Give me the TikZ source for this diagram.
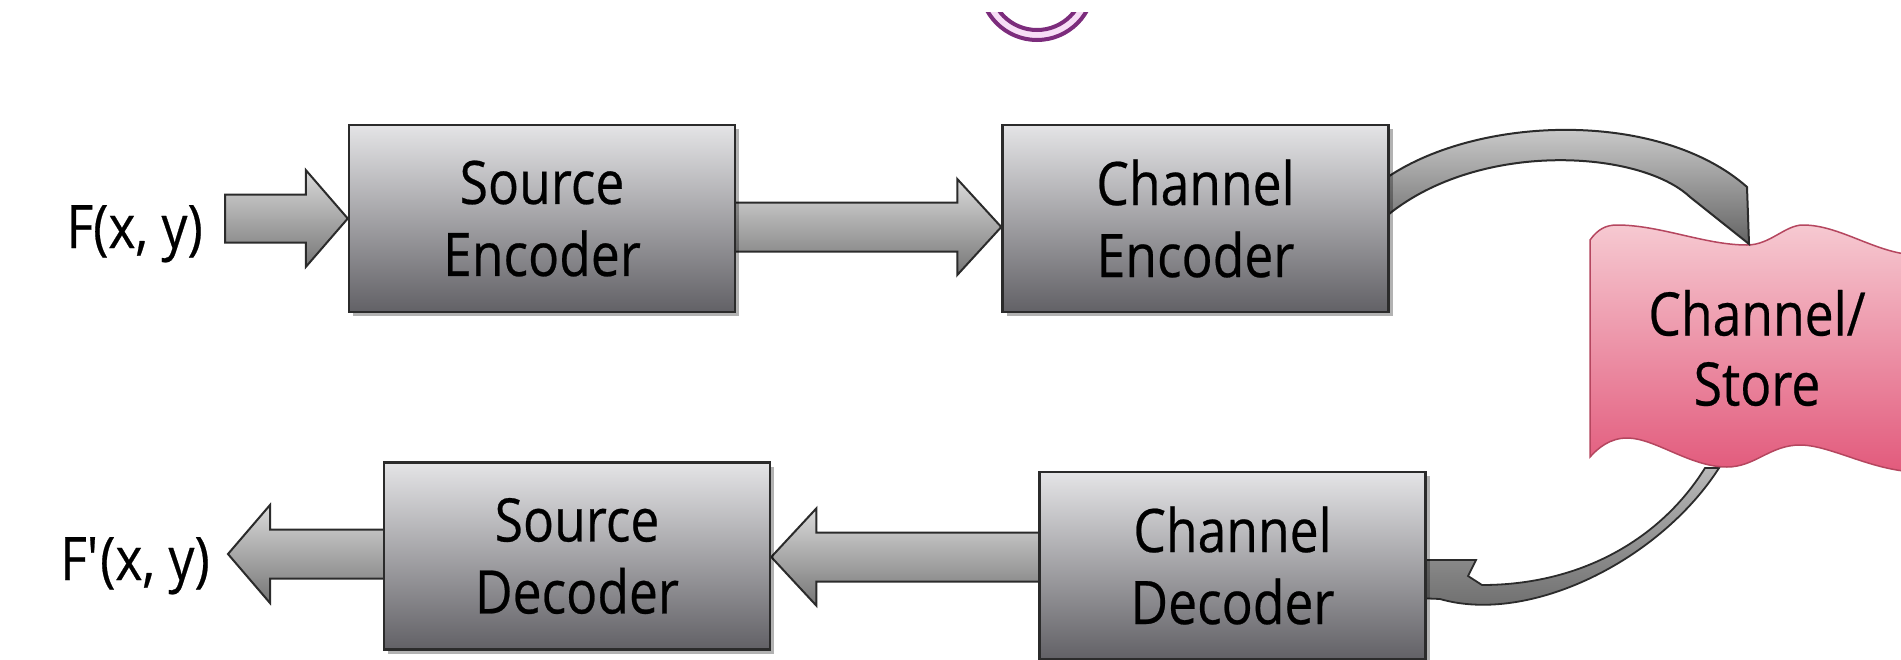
\documentclass[tikz,border=0pt]{standalone}
\usepackage{fontspec}
\setmainfont{Open Sans}[FakeStretch=0.86, FakeBold=0.4]
\usetikzlibrary{shadows,calc}
\pgfdeclarelayer{bg}
\pgfsetlayers{bg,main}
\definecolor{boxtop}{HTML}{E4E4E6}
\definecolor{boxbot}{HTML}{626166}
\definecolor{edgec}{HTML}{2B2B2B}
\definecolor{arrtop}{HTML}{DADADA}
\definecolor{arrbot}{HTML}{767676}
\definecolor{pinktop}{HTML}{F6C9D1}
\definecolor{pinkbot}{HTML}{E25A7C}
\definecolor{pinkedge}{HTML}{B5465F}
\definecolor{ringc}{HTML}{7C2C7C}
\definecolor{ringglow}{HTML}{F2C8F0}
\tikzset{
 procbox/.style={draw=edgec, line width=2.5pt, top color=boxtop, bottom color=boxbot,
   minimum width=386pt, minimum height=187pt, inner sep=0pt, align=center,
   font=\fontsize{60}{72}\selectfont,
   drop shadow={shadow xshift=4pt, shadow yshift=-4pt, opacity=0.3, fill=black}},
 blockarr/.style={draw=edgec, line width=2pt, line join=miter, top color=arrtop, bottom color=arrbot},
 curvarrA/.style={draw=edgec, line width=2pt, top color=arrtop, bottom color=arrbot!85!black},
 curvarrB/.style={draw=edgec, line width=1.8pt, top color=gray!55, bottom color=gray!80!black},
 lbl/.style={font=\fontsize{60}{72}\selectfont, inner sep=0pt},
 storetxt/.style={font=\fontsize{60}{70}\selectfont, align=center, inner sep=0pt},
 wavebox/.style={draw=pinkedge, line width=1.5pt, top color=pinktop, bottom color=pinkbot},
 ring/.style={draw=ringc, line width=4pt},
 ringhalo/.style={draw=ringglow, line width=12pt, opacity=0.6},
}
\begin{document}
\begin{tikzpicture}[x=1pt,y=-1pt]
\useasboundingbox (0,0) rectangle (1901,659);

% blocks and labels
\node[procbox] (SE) at (542,218.5) {Source\\Encoder};
\node[procbox] (CE) at (1195.5,218.5) {Channel\\Encoder};
\node[procbox] (SD) at (577,556) {Source\\Decoder};
\node[procbox] (CD) at (1232.5,565.5) {Channel\\Decoder};
\node[lbl, anchor=base east] (fxy) at (203,248) {F(x, y)};
\node[lbl, anchor=base east] (fpxy) at (210,580) {F\textquotesingle(x, y)};
\node[storetxt] (store) at (1757,348) {Channel/\\Store};
\coordinate (storetop) at (1749,244);
\coordinate (storebot) at (1705,468);

\begin{pgfonlayer}{bg}
 \fill[white] (0,0) rectangle (1901,659);
 % partial rings at the top
 \begin{scope}
  \clip (940,12) rectangle (1140,80);
  \draw[ringhalo] (1037,-17) circle[radius=52pt];
  \draw[ring] (1037,-17) circle[radius=57pt];
  \draw[ring] (1037,-17) circle[radius=47pt];
 \end{scope}
 % store -> channel decoder
 \draw[curvarrB] let \p2=(CD.east) in (storebot) .. controls (1660,540) and (1580,585) .. (1482,585)
   -- (1468,576) -- (1476,560) -- (\x2-10pt,-560pt) -- (\x2-10pt,-598pt) -- (1440,599)
   .. controls (1530,625) and (1660,560) .. (1719,468) -- cycle;
 % channel / store wave shape
 \path[wavebox] (1590,240) .. controls (1598,229) and (1606,225) .. (1617,225)
   .. controls (1660,225) and (1705,245) .. (1747,245)
   .. controls (1770,245) and (1785,225) .. (1803,225)
   .. controls (1840,225) and (1875,253) .. (1915,255) -- (1915,472)
   .. controls (1870,470) and (1830,445) .. (1800,445)
   .. controls (1770,445) and (1755,467) .. (1727,467)
   .. controls (1690,467) and (1655,438) .. (1627,438)
   .. controls (1610,438) and (1598,448) .. (1590,457) -- cycle;
 % channel encoder -> store
 \draw[curvarrA] let \p1=(CE.east) in (\x1-2pt,-177pt) .. controls (1480,115) and (1660,110) .. (1747,187)
   -- (storetop) -- (1690,197) .. controls (1640,150) and (1480,140) .. (\x1-2pt,-215pt) -- cycle;
 % F(x,y) -> source encoder
 \draw[blockarr] let \p1=(fxy.east), \p2=(SE.west) in
   (\x1+22pt,\y2+24pt) -- (\x2-42pt,\y2+24pt) -- (\x2-42pt,\y2+48.5pt) -- (\x2,\y2)
   -- (\x2-42pt,\y2-48.5pt) -- (\x2-42pt,\y2-24pt) -- (\x1+22pt,\y2-24pt) -- cycle;
 % source encoder -> channel encoder
 \draw[blockarr] let \p1=(SE.east), \p2=(CE.west) in
   (\x1-2pt,-202.5pt) -- (\x2-44pt,-202.5pt) -- (\x2-44pt,-179pt) -- (\x2,-227pt)
   -- (\x2-44pt,-275pt) -- (\x2-44pt,-251.5pt) -- (\x1-2pt,-251.5pt) -- cycle;
 % channel decoder -> source decoder
 \draw[blockarr] let \p1=(CD.west), \p2=(SD.east) in
   (\x1+2pt,-532.5pt) -- (\x2+45pt,-532.5pt) -- (\x2+45pt,-508.5pt) -- (\x2,-557pt)
   -- (\x2+45pt,-605.5pt) -- (\x2+45pt,-581.5pt) -- (\x1+2pt,-581.5pt) -- cycle;
 % source decoder -> F'(x,y)
 \draw[blockarr] let \p1=(SD.west), \p2=(fpxy.east) in
   (\x1+2pt,-529.5pt) -- (\x2+60pt,-529.5pt) -- (\x2+60pt,-505pt) -- (\x2+18pt,-554pt)
   -- (\x2+60pt,-603pt) -- (\x2+60pt,-578.5pt) -- (\x1+2pt,-578.5pt) -- cycle;
\end{pgfonlayer}
\end{tikzpicture}
\end{document}
